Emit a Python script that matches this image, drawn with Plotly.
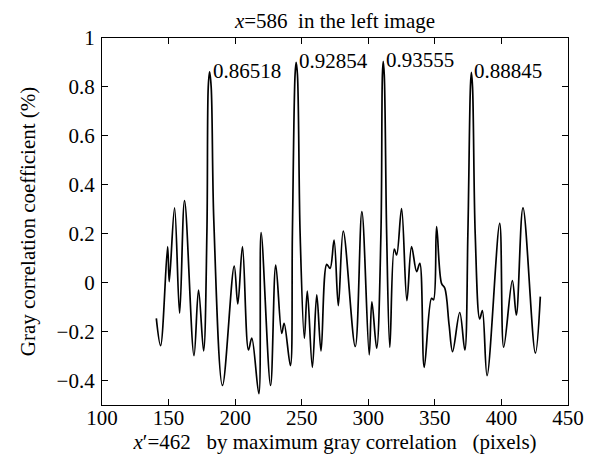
import plotly.graph_objects as go

x_pix = [140.8, 144.0, 149.3, 150.5, 154.5, 158.3, 162.0, 169.1, 172.5, 176.3,
         178.8, 179.8, 180.8, 182.0, 184.0, 190.5, 199.3, 202.0, 205.5, 210.0,
         212.5, 217.8, 219.5, 226.6, 230.5, 235.0, 236.8, 241.5, 243.0, 245.0,
         245.8, 246.8, 248.8, 252.0, 254.2, 258.0, 261.3, 264.5, 268.8, 271.3,
         274.3, 277.5, 281.2, 290.2, 295.2, 300.7, 302.7, 306.3, 309.5, 310.6,
         311.2, 312.0, 313.8, 316.2, 319.5, 321.3, 325.0, 329.0, 332.5, 336.3,
         338.7, 342.0, 347.5, 349.0, 351.3, 355.0, 357.5, 360.7, 363.3, 368.7,
         372.5, 374.8, 376.7, 377.4, 378.3, 380.3, 383.7, 385.7, 389.2, 398.7,
         401.7, 408.2, 411.2, 416.2, 425.5, 429.2]
corr = [-0.146, -0.257, 0.147, 0.004, 0.306, -0.125, 0.335, -0.298, -0.030, -0.279,
        0.21, 0.80, 0.862, 0.80, 0.25, -0.42, 0.068, -0.087, 0.147, -0.275,
        -0.227, -0.454, 0.205, -0.42, 0.072, -0.207, -0.166, -0.339, 0.2, 0.85,
        0.90, 0.85, 0.2, -0.227, -0.034, -0.346, -0.050, -0.279, 0.075, 0.058,
        0.174, -0.094, 0.211, -0.261, 0.290, -0.295, -0.078, -0.268, 0.2, 0.85,
        0.905, 0.85, 0.2, -0.264, 0.137, 0.113, 0.303, -0.073, 0.147, 0.045,
        0.079, -0.346, -0.064, -0.07, 0.229, -0.003, -0.023, -0.173, -0.282, -0.122,
        -0.275, 0.2, 0.80, 0.86, 0.80, 0.2, -0.148, -0.114, -0.380, 0.242,
        -0.264, 0.008, -0.132, 0.306, -0.288, -0.057]

peak_x = [180.8, 245.8, 311.2, 377.4]
peak_y = [0.862, 0.90, 0.905, 0.86]
peak_labels = ["0.86518", "0.92854", "0.93555", "0.88845"]

x_ticks = [100, 150, 200, 250, 300, 350, 400, 450]
y_ticks = [-0.4, -0.2, 0, 0.2, 0.4, 0.6, 0.8, 1]
y_tick_text = ["−0.4", "−0.2", "0", "0.2", "0.4", "0.6", "0.8", "1"]

FONT = "Liberation Serif"
FS = 21

fig = go.Figure()
fig.add_trace(go.Scatter(
    x=x_pix, y=corr, mode="lines",
    line=dict(color="black", width=1.7, shape="spline", smoothing=1.0),
    showlegend=False, hoverinfo="skip"))

for px, py, lab in zip(peak_x, peak_y, peak_labels):
    fig.add_annotation(x=px, y=py, text=lab, showarrow=False,
                       xanchor="left", yanchor="middle", xshift=1, yshift=1,
                       font=dict(family=FONT, size=21, color="black"))

axis_common = dict(showgrid=False, zeroline=False, showline=True, linecolor="black",
                   linewidth=1.3, mirror="ticks", ticks="inside", ticklen=6,
                   tickcolor="black", tickwidth=1.3, automargin=False,
                   tickfont=dict(family=FONT, size=FS, color="black"))

fig.update_xaxes(range=[100, 450], tickvals=x_ticks, ticklabelstandoff=-6,
                 title=dict(text="<i>x</i>′=462&nbsp;&nbsp;&nbsp;by maximum gray correlation&nbsp;&nbsp;&nbsp;(pixels)",
                            font=dict(family=FONT, size=FS, color="black"), standoff=2),
                 **axis_common)
fig.update_yaxes(range=[-0.5, 1], tickvals=y_ticks, ticktext=y_tick_text,
                 ticklabelstandoff=2,
                 title=dict(text="Gray correlation coefficient (%)",
                            font=dict(family=FONT, size=FS, color="black"), standoff=15),
                 **axis_common)

fig.update_layout(
    width=598, height=460,
    margin=dict(l=94, r=38, t=30, b=63),
    paper_bgcolor="white", plot_bgcolor="white",
    title=dict(text="<i>x</i>=586&nbsp;&nbsp;in the left image", x=0.5, xanchor="center",
               xref="paper", y=0.972, yref="container", yanchor="middle",
               font=dict(family=FONT, size=FS, color="black")),
)

fig.write_html("out.html")
